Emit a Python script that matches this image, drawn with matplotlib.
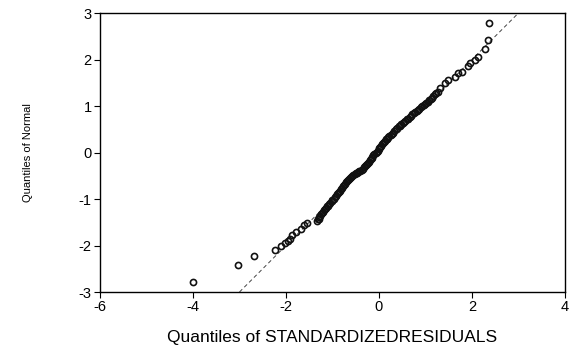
import matplotlib
matplotlib.use('Agg')
import matplotlib.pyplot as plt
import numpy as np

plt.rcParams['font.family'] = ['Liberation Sans', 'DejaVu Sans']
plt.rcParams['axes.unicode_minus'] = False

# lower tail (standardized residual quantile, normal quantile)
low_x = [-4.01, -3.03, -2.69, -2.24, -2.11, -2.02, -1.95, -1.91, -1.86, -1.78, -1.68, -1.61, -1.54]
low_y = [-2.79, -2.42, -2.23, -2.09, -2.00, -1.95, -1.90, -1.85, -1.77, -1.72, -1.65, -1.56, -1.52]

# dense middle part
mid_x = [-1.34, -1.32, -1.30, -1.28, -1.26, -1.24, -1.22, -1.20, -1.18, -1.16,
         -1.14, -1.12, -1.10, -1.07, -1.05, -1.02, -1.00, -0.97, -0.95, -0.92,
         -0.90, -0.88, -0.86, -0.84, -0.82, -0.80, -0.77, -0.75, -0.73, -0.71,
         -0.69, -0.67, -0.65, -0.62, -0.60, -0.57, -0.55, -0.52, -0.50, -0.47,
         -0.45, -0.42, -0.40, -0.37, -0.35, -0.32, -0.30, -0.28, -0.26, -0.24,
         -0.22, -0.20, -0.18, -0.16, -0.14, -0.12, -0.10, -0.07, -0.05, -0.03,
         -0.01, 0.01, 0.03, 0.05, 0.07, 0.09, 0.11, 0.13, 0.15, 0.17,
         0.20, 0.22, 0.25, 0.27, 0.30, 0.33, 0.36, 0.39, 0.42, 0.45,
         0.48, 0.51, 0.54, 0.57, 0.60, 0.63, 0.66, 0.69, 0.72, 0.75,
         0.78, 0.81, 0.84, 0.87, 0.90, 0.93, 0.96, 0.99, 1.02, 1.05,
         1.08, 1.11, 1.14, 1.17, 1.20, 1.23, 1.26]
mid_y = [-1.47, -1.44, -1.42, -1.39, -1.36, -1.33, -1.30, -1.27, -1.24, -1.21,
         -1.19, -1.16, -1.14, -1.11, -1.08, -1.05, -1.02, -0.99, -0.96, -0.93,
         -0.90, -0.88, -0.85, -0.82, -0.79, -0.76, -0.73, -0.70, -0.67, -0.64,
         -0.62, -0.59, -0.57, -0.54, -0.52, -0.50, -0.48, -0.46, -0.45, -0.43,
         -0.42, -0.40, -0.39, -0.37, -0.35, -0.32, -0.30, -0.27, -0.25, -0.22,
         -0.20, -0.17, -0.14, -0.11, -0.09, -0.06, -0.04, -0.01, 0.02, 0.04,
         0.07, 0.09, 0.12, 0.15, 0.18, 0.20, 0.23, 0.25, 0.28, 0.30,
         0.33, 0.35, 0.38, 0.40, 0.43, 0.47, 0.50, 0.53, 0.56, 0.58,
         0.61, 0.63, 0.66, 0.68, 0.71, 0.73, 0.76, 0.79, 0.82, 0.84,
         0.87, 0.89, 0.92, 0.94, 0.97, 0.99, 1.02, 1.04, 1.07, 1.09,
         1.12, 1.15, 1.18, 1.21, 1.25, 1.28, 1.31]

# upper tail
up_x = [1.31, 1.42, 1.49, 1.63, 1.71, 1.78, 1.92, 1.96, 2.06, 2.14, 2.28, 2.35, 2.37]
up_y = [1.38, 1.50, 1.56, 1.63, 1.70, 1.74, 1.86, 1.92, 1.99, 2.06, 2.23, 2.42, 2.79]

ref_x = [-3.0, 3.0]
ref_y = [-3.0, 3.0]

xticks = [-6, -4, -2, 0, 2, 4]
yticks = [-3, -2, -1, 0, 1, 2, 3]

x = np.array(low_x + mid_x + up_x)
y = np.array(low_y + mid_y + up_y)

fig = plt.figure(figsize=(5.7, 3.47), dpi=100)
ax = fig.add_axes([0.1754, 0.1585, 0.8158, 0.804])

ax.plot(ref_x, ref_y, color='#444444', linestyle=(0, (4, 3)), linewidth=0.7, zorder=2)
ax.plot(x, y, 'o', markersize=4.4, markerfacecolor='none', markeredgecolor='#111111',
        markeredgewidth=1.2, zorder=3)

ax.set_xlim(-6, 4)
ax.set_ylim(-3, 3)
ax.set_xticks(xticks)
ax.set_yticks(yticks)
ax.tick_params(direction='out', length=4, width=0.8, labelsize=10.5, pad=2)
ax.tick_params(top=False, right=False)
for s in ax.spines.values():
    s.set_linewidth(1.0)

ax.set_xlabel('Quantiles of STANDARDIZEDRESIDUALS', fontsize=12.5, labelpad=11)
ax.set_ylabel('Quantiles of Normal', fontsize=8, labelpad=33)

fig.savefig('out.png', dpi=100)
